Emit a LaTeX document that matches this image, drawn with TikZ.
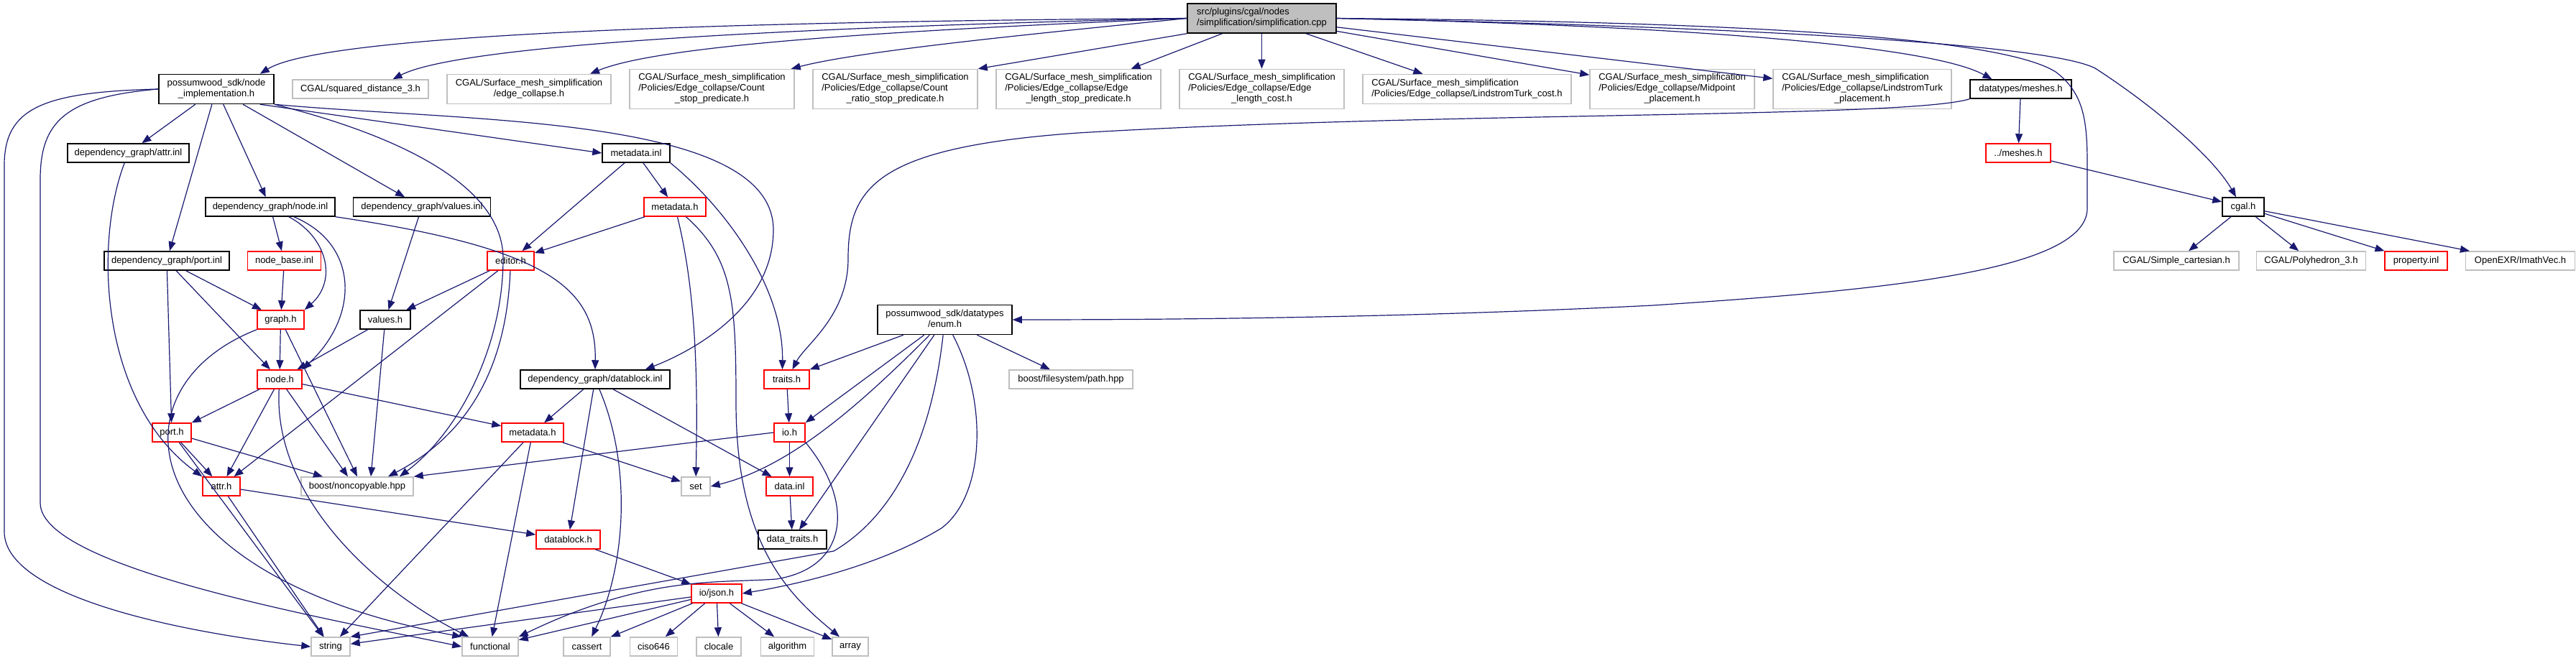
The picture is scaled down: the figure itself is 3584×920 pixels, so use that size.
\documentclass[tikz,border=0pt]{standalone}
\usepackage{fontspec}
\setmainfont{Liberation Sans}
\usepackage{xcolor}
\usepackage{tikz}
\usetikzlibrary{arrows.meta,positioning,calc}
\definecolor{edgeblue}{HTML}{191970}
\definecolor{extgray}{HTML}{BFBFBF}
\newcommand{\lblii}[2]{\begin{tabular}{@{}l@{}}#1\\\multicolumn{1}{@{}c@{}}{#2}\end{tabular}}
\newcommand{\lbliii}[3]{\begin{tabular}{@{}l@{}}#1\\#2\\\multicolumn{1}{@{}c@{}}{#3}\end{tabular}}
\tikzset{
  incbox/.style={rectangle, draw, line width=1.5pt, inner xsep=3pt, inner ysep=0pt, minimum height=26pt, align=center, font=\fontsize{13}{15}\selectfont},
  mainf/.style={incbox, fill=extgray},
  docf/.style={incbox, draw=black},
  trunc/.style={incbox, draw=red},
  ext/.style={incbox, draw=extgray},
  twol/.style={minimum height=41pt},
  threel/.style={minimum height=55pt},
  arrow/.style={-{Triangle[length=13pt,width=10pt]}, line width=1.2pt, edgeblue}
}

\begin{document}
\begin{tikzpicture}[x=1pt, y=-1pt, node distance=24.5pt]
  \useasboundingbox (0,0) rectangle (3584,920);
  \node[docf, twol, minimum width=160pt] (ni) at (301,124) {\lblii{possumwood\_sdk/node}{\_implementation.h}};
  \node[ext, minimum width=189pt, right=of ni] (sqd) {CGAL/squared\_distance\_3.h};
  \node[ext, twol, minimum width=228pt, right=of sqd] (ec) {\lblii{CGAL/Surface\_mesh\_simplification}{/edge\_collapse.h}};
  \node[ext, threel, minimum width=229pt, right=of ec] (cs) {\lbliii{CGAL/Surface\_mesh\_simplification}{/Policies/Edge\_collapse/Count}{\_stop\_predicate.h}};
  \node[ext, threel, minimum width=229pt, right=of cs] (crs) {\lbliii{CGAL/Surface\_mesh\_simplification}{/Policies/Edge\_collapse/Count}{\_ratio\_stop\_predicate.h}};
  \node[ext, threel, minimum width=229pt, right=of crs] (els) {\lbliii{CGAL/Surface\_mesh\_simplification}{/Policies/Edge\_collapse/Edge}{\_length\_stop\_predicate.h}};
  \node[ext, threel, minimum width=229pt, right=of els] (elc) {\lbliii{CGAL/Surface\_mesh\_simplification}{/Policies/Edge\_collapse/Edge}{\_length\_cost.h}};
  \node[ext, twol, minimum width=290pt, right=of elc] (ltc) {\lblii{CGAL/Surface\_mesh\_simplification}{/Policies/Edge\_collapse/LindstromTurk\_cost.h}};
  \node[ext, threel, minimum width=229pt, right=of ltc] (mp) {\lbliii{CGAL/Surface\_mesh\_simplification}{/Policies/Edge\_collapse/Midpoint}{\_placement.h}};
  \node[ext, threel, minimum width=248pt, right=of mp] (ltp) {\lbliii{CGAL/Surface\_mesh\_simplification}{/Policies/Edge\_collapse/LindstromTurk}{\_placement.h}};
  \node[docf, minimum width=141pt, right=of ltp] (dm) {datatypes/meshes.h};
  \node[mainf, twol, minimum width=207pt, above=49pt of elc] (root) {\lblii{src/plugins/cgal/nodes}{/simplification/simplification.cpp}};

  \node[docf, minimum width=169pt] (ai) at (178.5,213) {dependency\_graph/attr.inl};
  \node[docf, minimum width=94pt] (mi) at (885,213) {metadata.inl};
  \node[trunc, minimum width=90pt] (pm) at (2808,213) {../meshes.h};

  \node[docf, minimum width=180pt] (noi) at (376,288) {dependency\_graph/node.inl};
  \node[docf, minimum width=191pt, right=24pt of noi] (vi) {dependency\_graph/values.inl};
  \node[trunc, minimum width=86pt] (mh1) at (939,288) {metadata.h};
  \node[docf, minimum width=58pt] (cg) at (3121,288) {cgal.h};

  \node[docf, minimum width=174pt] (pi) at (232,363) {dependency\_graph/port.inl};
  \node[trunc, minimum width=102pt, right=24pt of pi] (nb) {node\_base.inl};
  \node[trunc, minimum width=65pt] (ed) at (710.5,363) {editor.h};
  \node[ext, minimum width=174pt] (sc) at (3028,363) {CGAL/Simple\_cartesian.h};
  \node[ext, minimum width=152pt, right=23pt of sc] (ph) {CGAL/Polyhedron\_3.h};
  \node[trunc, minimum width=87pt, right=25pt of ph] (pr) {property.inl};
  \node[ext, minimum width=152pt, right=24pt of pr] (iv) {OpenEXR/ImathVec.h};

  \node[trunc, minimum width=65pt] (gr) at (390.5,445) {graph.h};
  \node[docf, minimum width=70pt] (vh) at (536,445) {values.h};
  \node[docf, twol, minimum width=187pt] (en) at (1314.5,445) {\lblii{possumwood\_sdk/datatypes}{/enum.h}};

  \node[trunc, minimum width=62pt] (nh) at (389,528) {node.h};
  \node[docf, minimum width=208pt] (dbi) at (828,528) {dependency\_graph/datablock.inl};
  \node[trunc, minimum width=63pt] (tr) at (1094.5,528) {traits.h};
  \node[ext, minimum width=172pt] (bp) at (1490,528) {boost/filesystem/path.hpp};

  \node[trunc, minimum width=54pt] (porth) at (239,602) {port.h};
  \node[trunc, minimum width=86pt] (mh2) at (741,602) {metadata.h};
  \node[trunc, minimum width=43pt] (io) at (1098.5,602) {io.h};

  \node[trunc, minimum width=52pt] (ah) at (308,677) {attr.h};
  \node[ext, minimum width=156pt] (nc) at (497,677) {boost/noncopyable.hpp};
  \node[ext, minimum width=40pt] (st) at (968,677) {set};
  \node[trunc, minimum width=65pt] (di) at (1098.5,677) {data.inl};

  \node[trunc, minimum width=89pt] (dbh) at (790.5,751) {datablock.h};
  \node[docf, minimum width=95pt] (dt) at (1102.5,751) {data\_traits.h};

  \node[trunc, minimum width=70pt] (js) at (997,826) {io/json.h};

  \node[ext, minimum width=54pt] (str) at (460,900) {string};
  \node[ext, minimum width=78pt] (fun) at (682,900) {functional};
  \node[ext, minimum width=65pt] (cas) at (816.5,900) {cassert};
  \node[ext, minimum width=66pt, right=26pt of cas] (cis) {ciso646};
  \node[ext, minimum width=62pt, right=25pt of cis] (clo) {clocale};
  \node[ext, minimum width=74pt, right=26pt of clo] (alg) {algorithm};
  \node[ext, minimum width=50pt, right=24pt of alg] (arr) {array};

  \draw[arrow] (root.west) .. controls (1000,30) and (450,48) .. ([xshift=-20pt]ni.north east);
  \draw[arrow] (root.west) .. controls (1100,38) and (640,62) .. ([xshift=45pt]sqd.north);
  \draw[arrow] (root.west) .. controls (1250,42) and (920,62) .. ([xshift=85pt]ec.north);
  \draw[arrow] (root.west) .. controls (1450,46) and (1200,70) .. ([xshift=-5pt]cs.north east);
  \draw[arrow] (root.south west) -- (crs.north east);
  \draw[arrow] (root) -- (els);
  \draw[arrow] (root) -- (elc);
  \draw[arrow] (root) -- (ltc);
  \draw[arrow] (root) -- (mp);
  \draw[arrow] (root) -- (ltp);
  \draw[arrow] (root.east) .. controls (2300,35) and (2680,60) .. ([xshift=-40pt]dm.north);
  \draw[arrow] (root.east) .. controls (2450,38) and (2850,62) .. (2915,95) .. controls (3000,150) and (3080,220) .. ([xshift=-10pt]cg.north);
  \draw[arrow] (root.east) .. controls (2400,30) and (2780,50) .. (2860,100) .. controls (2900,130) and (2904,170) .. (2904,230) -- (2904,290) .. controls (2904,380) and (2600,405) .. (2300,425) .. controls (2000,440) and (1700,445) .. (en.east);

  \draw[arrow] (dm) -- (pm);
  \draw[arrow] (dm.south west) .. controls (2650,165) and (2000,155) .. (1500,185) .. controls (1220,205) and (1180,260) .. (1180,360) .. controls (1180,440) and (1120,480) .. ([xshift=8pt]tr.north);
  \draw[arrow] (pm) -- (cg);
  \draw[arrow] (cg) -- (sc);
  \draw[arrow] (cg) -- (ph);
  \draw[arrow] (cg) -- (pr);
  \draw[arrow] (cg) -- (iv);

  \draw[arrow] (ni.west) .. controls (60,128) and (6,150) .. (6,230) -- (6,740) .. controls (6,830) and (250,880) .. (str.west);
  \draw[arrow] (ni.west) .. controls (90,135) and (56,170) .. (56,250) -- (56,700) .. controls (56,790) and (450,860) .. (fun.west);
  \draw[arrow] (ni) -- (ai);
  \draw[arrow] (ni) -- (pi);
  \draw[arrow] (ni) -- (noi);
  \draw[arrow] (ni) -- (vi);
  \draw[arrow] (ni.south east) .. controls (560,190) and (700,260) .. (700,360) .. controls (700,480) and (640,600) .. ([xshift=59pt]nc.north);
  \draw[arrow] ([xshift=-20pt]ni.south east) -- (mi.west);
  \draw[arrow] (ni.south east) .. controls (650,170) and (1076,160) .. (1076,320) .. controls (1076,430) and (960,490) .. ([xshift=-35pt]dbi.north east);

  \draw[arrow] (ai) .. controls (130,340) and (140,560) .. (ah.north west);

  \draw[arrow] (noi) -- (nb);
  \draw[arrow] (noi) .. controls (455,330) and (470,390) .. (gr.north east);
  \draw[arrow] (noi) .. controls (500,340) and (500,440) .. (nh.north east);
  \draw[arrow] (noi.south east) .. controls (760,345) and (830,400) .. (dbi.north);

  \draw[arrow] (pi) -- (gr);
  \draw[arrow] (pi) -- (nh);
  \draw[arrow] (pi) -- (porth);
  \draw[arrow] (nb) -- (gr);
  \draw[arrow] (vi) -- (vh);

  \draw[arrow] (mi) -- (ed);
  \draw[arrow] (mi) -- (mh1);
  \draw[arrow] (mi.south east) .. controls (1010,290) and (1090,400) .. ([xshift=-6pt]tr.north);

  \draw[arrow] (mh1) -- (ed);
  \draw[arrow] (mh1) .. controls (972,420) and (970,560) .. (st);
  \draw[arrow] (mh1) .. controls (1020,360) and (1024,420) .. (1024,560) .. controls (1024,760) and (1100,830) .. ([xshift=-15pt]arr.north);

  \draw[arrow] (ed) -- (vh);
  \draw[arrow] (ed) -- (ah);
  \draw[arrow] (ed) .. controls (705,500) and (660,600) .. ([xshift=43pt]nc.north);

  \draw[arrow] (gr) -- (nh);
  \draw[arrow] (gr) -- (nc.north);
  \draw[arrow] (gr.south west) .. controls (150,540) and (180,800) .. (fun.north west);

  \draw[arrow] (vh) -- (nh);
  \draw[arrow] (vh) -- ([xshift=19pt]nc.north);

  \draw[arrow] (nh) -- (porth);
  \draw[arrow] (nh) -- (ah);
  \draw[arrow] (nh) .. controls (380,690) and (520,820) .. ([xshift=10pt]fun.north west);
  \draw[arrow] (nh) -- ([xshift=-13pt]nc.north);
  \draw[arrow] (nh) -- (mh2);

  \draw[arrow] (porth) -- (ah);
  \draw[arrow] (porth) -- ([xshift=-48pt]nc.north);
  \draw[arrow] (porth) -- (str);

  \draw[arrow] (ah) -- (dbh);
  \draw[arrow] (ah) -- (str);

  \draw[arrow] (mh2) -- (str);
  \draw[arrow] (mh2) -- (fun);
  \draw[arrow] (mh2) -- (st);

  \draw[arrow] (dbi) -- (mh2);
  \draw[arrow] (dbi) -- (dbh);
  \draw[arrow] (dbi) .. controls (880,650) and (870,790) .. (cas);
  \draw[arrow] (dbi) -- (di);

  \draw[arrow] (dbh) -- (js);
  \draw[arrow] (tr) -- (io);
  \draw[arrow] (io) -- (di);
  \draw[arrow] (io.west) -- (nc.north east);
  \draw[arrow] (io.south east) .. controls (1190,700) and (1180,790) .. (1080,806) .. controls (1000,812) and (900,800) .. (fun.north east);

  \draw[arrow] (en) -- (tr.north east);
  \draw[arrow] (en) -- (io.north east);
  \draw[arrow] (en) .. controls (1200,560) and (1100,650) .. (st.east);
  \draw[arrow] (en) -- (dt);
  \draw[arrow] (en) .. controls (1295,620) and (1240,720) .. (1160,767) -- (str.north east);
  \draw[arrow] (en) .. controls (1375,560) and (1370,690) .. (1310,735) .. controls (1220,790) and (1100,815) .. (js.east);
  \draw[arrow] (en) -- (bp);

  \draw[arrow] (di) -- (dt);
  \draw[arrow] (js) -- (str);
  \draw[arrow] (js) -- (fun);
  \draw[arrow] (js) -- (cas);
  \draw[arrow] (js) -- (cis);
  \draw[arrow] (js) -- (clo);
  \draw[arrow] (js) -- (alg);
  \draw[arrow] (js) -- (arr);
\end{tikzpicture}
\end{document}
